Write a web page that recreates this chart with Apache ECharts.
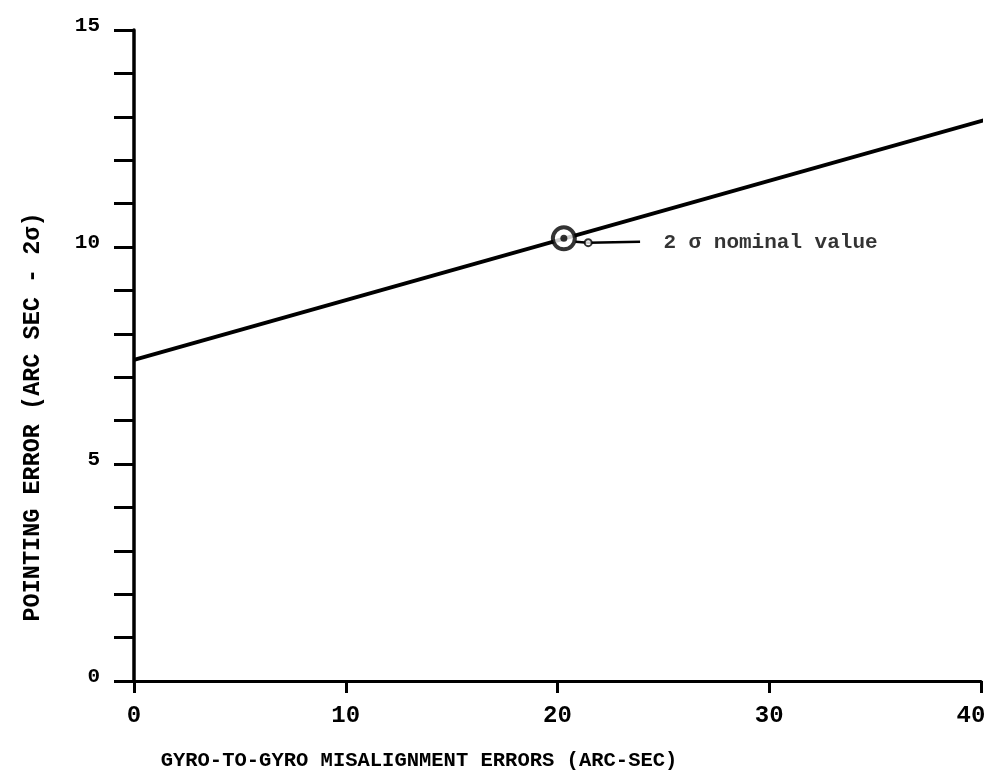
<!DOCTYPE html>
<html>
<head>
<meta charset="utf-8">
<script src="https://cdn.jsdelivr.net/npm/echarts@6/dist/echarts.min.js"></script>
<style>
html,body{margin:0;padding:0;background:#fff;overflow:hidden;width:992px;height:780px;}
#chart{width:992px;height:780px;}
</style>
</head>
<body>
<div id="chart"></div>
<script>
// Data
var xTicks = [0, 10, 20, 30, 40];
var yTicks = [0, 5, 10, 15];
var lineX = [0, 40.5];
var lineY = [7.4, 12.97];
var nominalX = [20.3];
var nominalY = [10.2];
var leaderX = [20.85, 21.45, 23.9];
var leaderY = [10.12, 10.1, 10.12];
var annotX = [25.0];
var annotY = [10.1];
var annotText = ['2 \u03c3 nominal value'];
var xTitle = 'GYRO-TO-GYRO MISALIGNMENT ERRORS (ARC-SEC)';
var yTitle = 'POINTING ERROR (ARC SEC - 2\u03c3)';

var FONT = '"Liberation Mono", "DejaVu Sans Mono", monospace';

function pairs(xs, ys) { return xs.map(function (x, i) { return [x, ys[i]]; }); }

var xLabelStyle = { color: '#000', fontFamily: FONT, fontWeight: 'bold', fontSize: 24 };

var chart = echarts.init(document.getElementById('chart'), null, { renderer: 'canvas', width: 992, height: 780 });
chart.setOption({
  backgroundColor: '#ffffff',
  animation: false,
  grid: { left: 134, right: 11, top: 30, bottom: 99, containLabel: false, outerBoundsMode: 'none' },
  xAxis: {
    type: 'value', min: xTicks[0], max: xTicks[xTicks.length - 1], interval: 10,
    axisLine: { show: true, lineStyle: { color: '#000', width: 3 } },
    axisTick: { show: true, length: 12, lineStyle: { color: '#000', width: 3 } },
    axisLabel: {
      margin: 23, color: '#000', fontFamily: FONT, fontWeight: 'bold', fontSize: 24,
      formatter: function (v) {
        return v === xTicks[xTicks.length - 1] ? '{last|' + v + '}' : '{n|' + v + '}';
      },
      rich: {
        n: xLabelStyle,
        last: Object.assign({ padding: [0, 20, 0, 0] }, xLabelStyle)
      }
    },
    splitLine: { show: false }
  },
  yAxis: {
    type: 'value', min: yTicks[0], max: yTicks[yTicks.length - 1], interval: 5,
    axisLine: { show: true, lineStyle: { color: '#000', width: 3.5 } },
    axisTick: { show: true, length: 20, lineStyle: { color: '#000', width: 3 } },
    minorTick: { show: true, splitNumber: 5, length: 20, lineStyle: { color: '#000', width: 3 } },
    axisLabel: { margin: 34, color: '#000', fontFamily: FONT, fontWeight: 'bold', fontSize: 21, verticalAlign: 'bottom', lineHeight: 8 },
    splitLine: { show: false },
    minorSplitLine: { show: false }
  },
  graphic: [
    { type: 'text', x: 419, y: 761, style: { text: xTitle, fill: '#000', font: 'bold 20.5px ' + FONT, textAlign: 'center', textVerticalAlign: 'middle' } },
    { type: 'text', x: 33, y: 417, rotation: Math.PI / 2, style: { text: yTitle, fill: '#000', font: 'bold 23.5px ' + FONT, textAlign: 'center', textVerticalAlign: 'middle' } }
  ],
  series: [
    {
      type: 'line', data: pairs(lineX, lineY), symbol: 'none', clip: false,
      lineStyle: { color: '#000', width: 4 }, z: 3
    },
    {
      type: 'line', data: pairs(leaderX, leaderY), symbol: 'none', clip: false,
      lineStyle: { color: '#000', width: 2.5 }, z: 3
    },
    {
      type: 'scatter', data: [pairs(leaderX, leaderY)[1]], symbol: 'circle', symbolSize: 7,
      itemStyle: { color: '#fff', borderColor: '#000', borderWidth: 2 }, z: 4
    },
    {
      type: 'scatter', data: pairs(nominalX, nominalY), symbol: 'circle', symbolSize: 22,
      itemStyle: { color: '#fff', borderColor: '#000', borderWidth: 4 }, z: 5
    },
    {
      type: 'scatter', data: pairs(nominalX, nominalY), symbol: 'circle', symbolSize: 7,
      itemStyle: { color: '#000' }, z: 6
    },
    {
      type: 'scatter', data: pairs(annotX, annotY), symbolSize: 0,
      label: {
        show: true, position: 'right', distance: 0,
        formatter: function (p) { return annotText[p.dataIndex]; },
        color: '#000', fontFamily: FONT, fontWeight: 'bold', fontSize: 21
      }, z: 6
    }
  ]
});
</script>
</body>
</html>
